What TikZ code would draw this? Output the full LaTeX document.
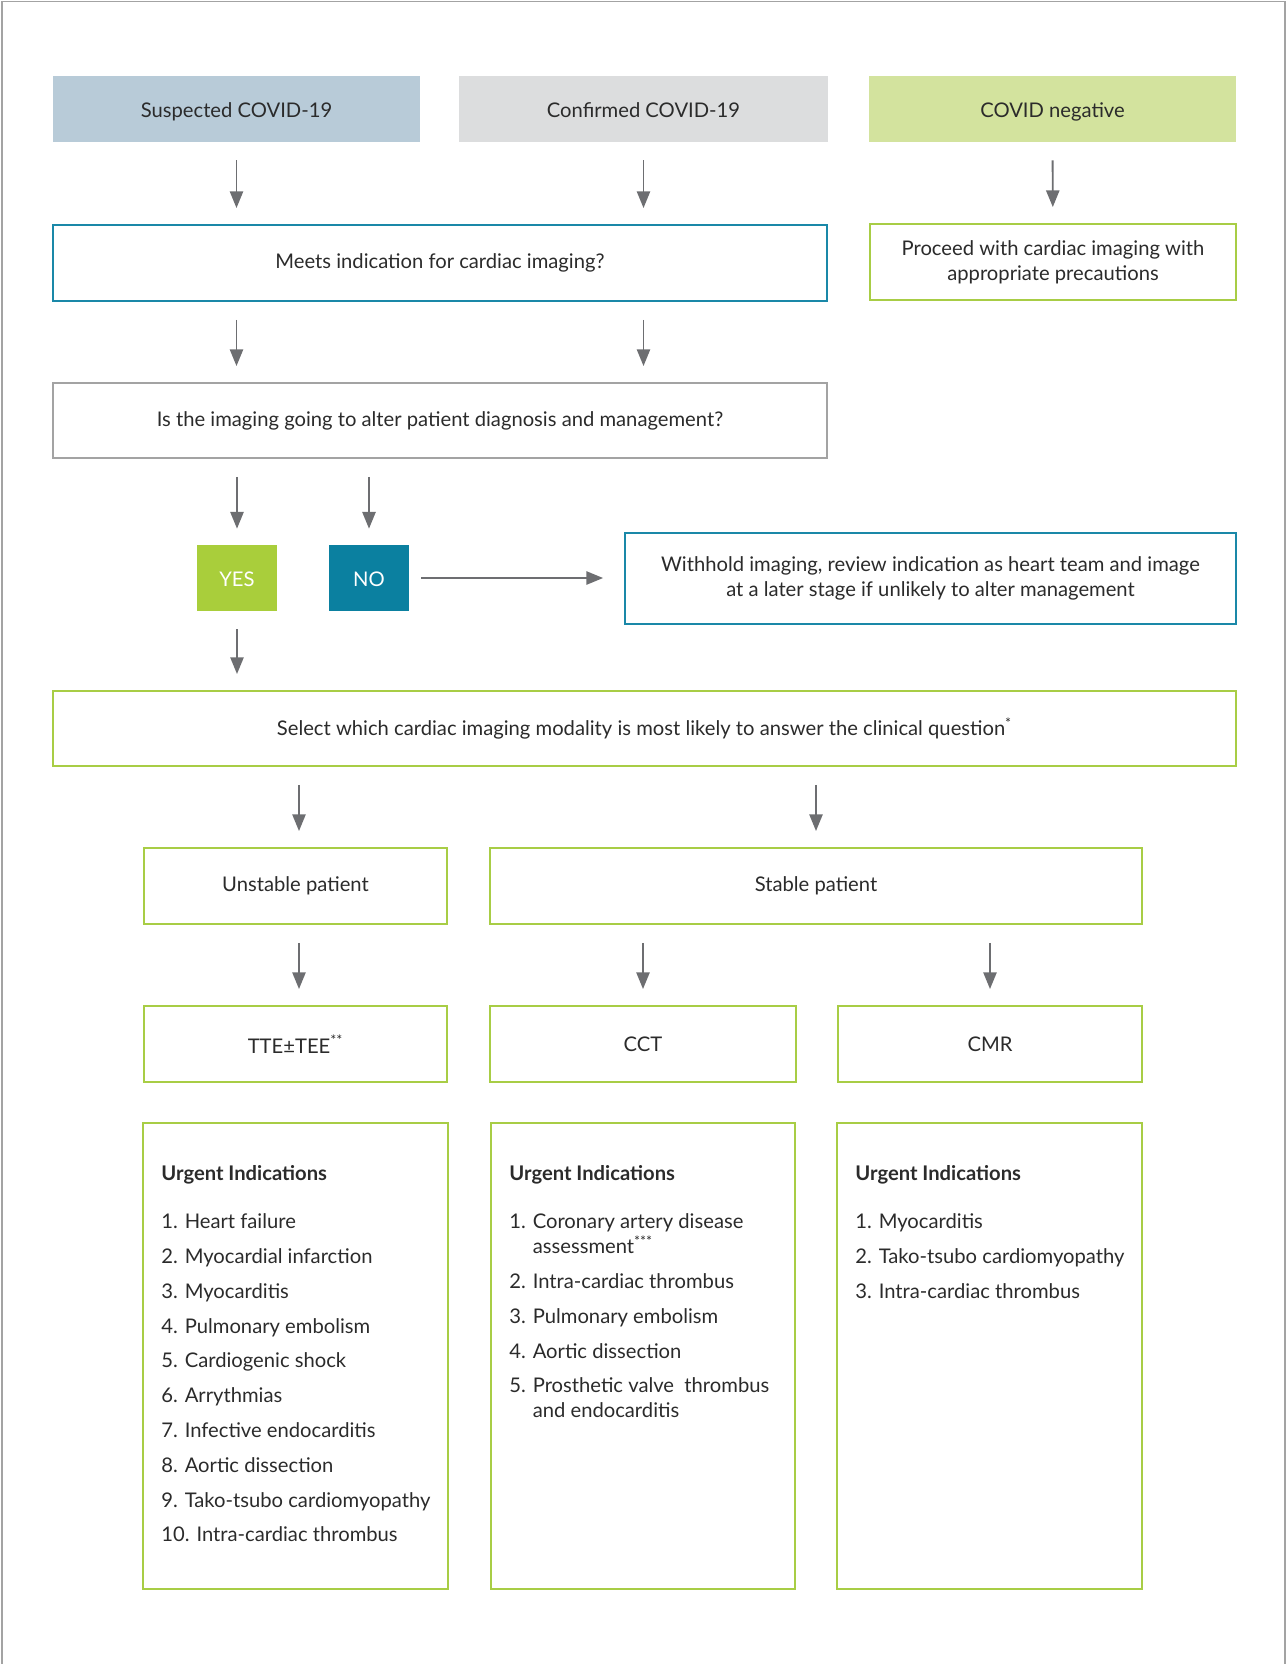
\documentclass[tikz,border=0pt]{standalone}
\usepackage{fontspec}
\setmainfont{Lato}
\setsansfont{Lato}
\usetikzlibrary{arrows.meta, positioning}
\definecolor{cteal}{HTML}{1A88A8}
\definecolor{cgreen}{HTML}{A8CD45}
\definecolor{cgrey}{HTML}{A3A3A3}
\definecolor{carrow}{HTML}{6D6E71}
\definecolor{ctext}{HTML}{2B2B2B}
\definecolor{csusp}{HTML}{B8CBD8}
\definecolor{cconf}{HTML}{DCDDDE}
\definecolor{cneg}{HTML}{D3E39E}
\definecolor{cyes}{HTML}{A9CE3B}
\definecolor{cno}{HTML}{0B80A0}
\tikzset{
  every picture/.style={font=\sffamily\fontsize{11.5}{14}\selectfont, text=ctext},
  box/.style={draw=#1, fill=white, line width=1.1pt, align=center, inner sep=4pt, minimum height=1.52cm},
  box/.default=cgreen,
  head/.style={fill=#1, align=center, text height=2.1ex, text depth=0.3ex, minimum width=7.34cm, minimum height=1.32cm},
  tag/.style={fill=#1, text=white, text height=2.1ex, text depth=0.3ex, minimum width=1.6cm, minimum height=1.32cm},
  arrow/.style={-{Triangle[length=9.5pt, width=7.5pt]}, draw=carrow, line width=1.1pt, shorten <=0.36cm, shorten >=0.32cm},
  listbox/.style={draw=cgreen, line width=1.1pt, minimum height=9.32cm},
  listtext/.style={align=left, inner sep=0pt, font=\sffamily\fontsize{11.5}{14.2}\selectfont},
}

\begin{document}
\begin{tikzpicture}[x=0.02cm, y=-0.02cm]
  \useasboundingbox (0,0) rectangle (1287,1664);
  \draw[cgrey, line width=1.1pt] (2,1664) -- (2,1.5) -- (1285,1.5) -- (1285,1664);
  % covid status
  \node[head=csusp] (sus) at (236.5,109) {Suspected COVID-19};
  \node[head=cconf, minimum width=7.38cm] (conf) at (643.5,109) {Confirmed COVID-19};
  \node[head=cneg] (neg) at (1052.5,109) {COVID negative};
  % indication
  \node[box=cteal, minimum width=15.48cm] (meets) at (440,263) {Meets indication for cardiac imaging?};
  \node[box, minimum width=7.32cm] (proc) at (1053,262) {Proceed with cardiac imaging with\\ appropriate precautions};
  \draw[arrow] (sus) -- (sus |- meets.north);
  \draw[arrow] (conf) -- (conf |- meets.north);
  \draw[arrow] (neg) -- (proc);
  \node[box=cgrey, minimum width=15.48cm, minimum height=1.5cm] (isimg) at (440,420.5) {Is the imaging going to alter patient diagnosis and management?};
  \draw[arrow] (sus |- meets.south) -- (sus |- isimg.north);
  \draw[arrow] (conf |- meets.south) -- (conf |- isimg.north);
  % yes / no
  \node[tag=cyes] (yes) at (237,578) {YES};
  \node[tag=cno] (no) at (369,578) {NO};
  \draw[arrow] (yes |- isimg.south) -- (yes);
  \draw[arrow] (no |- isimg.south) -- (no);
  \node[box=cteal, minimum width=12.22cm, minimum height=1.82cm] (wh) at (930.5,578.5) {Withhold imaging, review indication as heart team and image\\ at a later stage if unlikely to alter management};
  \draw[arrow, shorten <=0.24cm, shorten >=0.42cm] (no) -- (no -| wh.west);
  % modality
  \node[box, minimum width=23.66cm, minimum height=1.5cm] (sel) at (644.5,728.5) {Select which cardiac imaging modality is most likely to answer the clinical question\textsuperscript{*}};
  \draw[arrow] (yes) -- (yes |- sel.north);
  \node[box, minimum width=6.06cm] (unst) at (295.5,886) {Unstable patient};
  \node[box, minimum width=13.04cm] (stab) at (816,886) {Stable patient};
  \draw[arrow] ([xshift=0.07cm]unst.north |- sel.south) -- ([xshift=0.07cm]unst.north);
  \draw[arrow] (stab |- sel.south) -- (stab);
  \node[box, minimum width=6.06cm] (tte) at (295.5,1044) {TTE±TEE\textsuperscript{**}};
  \node[box, minimum width=6.12cm] (cct) at (643,1044) {CCT};
  \node[box, minimum width=6.08cm] (cmr) at (990,1044) {CMR};
  \draw[arrow] ([xshift=0.07cm]unst.south) -- ([xshift=0.07cm]tte.north);
  \draw[arrow] (cct |- stab.south) -- (cct);
  \draw[arrow] (cmr |- stab.south) -- (cmr);
  % urgent indications
  \node[listbox, minimum width=6.1cm] (l1) at (295.5,1356) {};
  \node[listbox, minimum width=6.08cm] (l2) at (643,1356) {};
  \node[listbox, minimum width=6.1cm] (l3) at (989.5,1356) {};
  \node[listtext, below right=0.87cm and 0.38cm of l1.north west] (t1) {\textbf{Urgent Indications}\\[13pt]
    1. Heart failure\\[5.6pt] 2. Myocardial infarction\\[5.6pt] 3. Myocarditis\\[5.6pt] 4. Pulmonary embolism\\[5.6pt]
    5. Cardiogenic shock\\[5.6pt] 6. Arrythmias\\[5.6pt] 7. Infective endocarditis\\[5.6pt] 8. Aortic dissection\\[5.6pt]
    9. Tako-tsubo cardiomyopathy\\[5.6pt] 10. Intra-cardiac thrombus};
  \node[listtext, below right=0.87cm and 0.38cm of l2.north west] (t2) {\textbf{Urgent Indications}\\[13pt]
    1. Coronary artery disease\\ \phantom{1. }assessment\textsuperscript{***}\\[5.6pt] 2. Intra-cardiac thrombus\\[5.6pt]
    3. Pulmonary embolism\\[5.6pt] 4. Aortic dissection\\[5.6pt] 5. Prosthetic valve\ \ thrombus\\ \phantom{5. }and endocarditis};
  \node[listtext, below right=0.87cm and 0.38cm of l3.north west] (t3) {\textbf{Urgent Indications}\\[13pt]
    1. Myocarditis\\[5.6pt] 2. Tako-tsubo cardiomyopathy\\[5.6pt] 3. Intra-cardiac thrombus};
\end{tikzpicture}
\end{document}
